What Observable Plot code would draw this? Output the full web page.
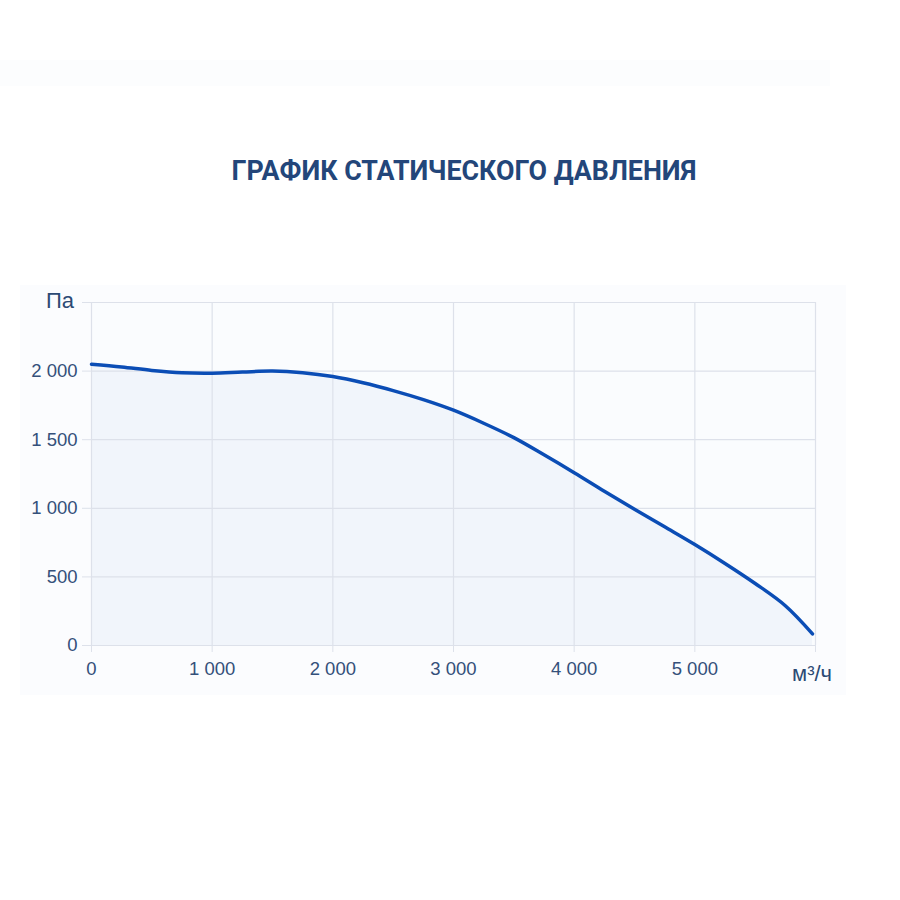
<!DOCTYPE html>
<html><head><meta charset="utf-8">
<script src="https://cdn.jsdelivr.net/npm/d3@7"></script>
<script src="https://cdn.jsdelivr.net/npm/@observablehq/plot@0.6"></script>
<style>
body{margin:0;background:#fff;font-family:Roboto,"Open Sans",sans-serif;}
#wrap{position:relative;width:900px;height:900px;}
#strip{position:absolute;left:0;top:60px;width:830px;height:26px;background:#fcfdfe;}
#title{position:absolute;top:155px;left:0;width:928px;text-align:center;font-size:26.8px;font-weight:700;color:#23467a;}
#panel{position:absolute;left:20px;top:285px;width:826px;height:410px;background:#fbfcfe;}
#chart{position:absolute;left:0;top:280px;}
.lbl{position:absolute;color:#2c4a74;font-size:22px;font-family:"Liberation Sans",Arial,sans-serif;}
</style></head>
<body><div id="wrap">
<div id="strip"></div>
<div id="title">ГРАФИК СТАТИЧЕСКОГО ДАВЛЕНИЯ</div>
<div id="panel"></div>
<div id="chart"></div>
<div class="lbl" style="left:46px;top:288px;">Па</div>
<div class="lbl" style="left:792px;top:661px;">м³/ч</div>
</div>
<script>
const flow = [0, 250, 500, 750, 1000, 1250, 1500, 1750, 2000, 2250, 2500, 2750, 3000, 3250, 3500, 3750, 4000, 4250, 4500, 4750, 5000, 5250, 5500, 5750, 5975];
const pressure = [2050, 2030, 2005, 1988, 1985, 1993, 2000, 1988, 1960, 1915, 1858, 1792, 1715, 1620, 1515, 1390, 1260, 1125, 993, 865, 736, 598, 452, 290, 85];
const xTicks = [0, 1000, 2000, 3000, 4000, 5000, 6000];
const yTicks = [0, 500, 1000, 1500, 2000, 2500];
const xTickLabels = ["0", "1 000", "2 000", "3 000", "4 000", "5 000", ""];
const yTickLabels = ["0", "500", "1 000", "1 500", "2 000", ""];

const data = flow.map((f, i) => ({f, p: pressure[i]}));
const gridColor = "#dde1ea";
const textColor = "#34507a";

const chart = Plot.plot({
  width: 900,
  height: 430,
  marginTop: 22,
  marginBottom: 65,
  marginLeft: 91,
  marginRight: 85,
  style: {background: "transparent", fontFamily: "'Liberation Sans', Arial, sans-serif", fontSize: "18.5px", color: textColor},
  x: {domain: [0, 6000]},
  y: {domain: [0, 2500]},
  marks: [
    Plot.rect([0], {x1: 0, x2: 6000, y1: 0, y2: 2500, fill: "#fafcfe"}),
    Plot.areaY(data, {x: "f", y: "p", fill: "#f1f5fb", curve: "catmull-rom"}),
    Plot.ruleX(xTicks, {x: d => d, y1: 0, y2: 2500, stroke: gridColor, strokeWidth: 1.2}),
    Plot.ruleY(yTicks, {y: d => d, x1: 0, x2: 6000, stroke: gridColor, strokeWidth: 1.2}),
    Plot.axisX(xTicks, {tickSize: 7, tickPadding: 9, stroke: gridColor, tickFormat: (d, i) => xTickLabels[i], fill: textColor, fontSize: 18.5, label: null}),
    Plot.axisY(yTicks, {tickSize: 9, tickPadding: 5, stroke: gridColor, tickFormat: (d, i) => yTickLabels[i], fill: textColor, fontSize: 18.5, label: null}),
    Plot.line(data, {x: "f", y: "p", stroke: "#0b4db5", strokeWidth: 3.5, curve: "catmull-rom"})
  ]
});
document.getElementById("chart").appendChild(chart);
</script>
</body></html>
